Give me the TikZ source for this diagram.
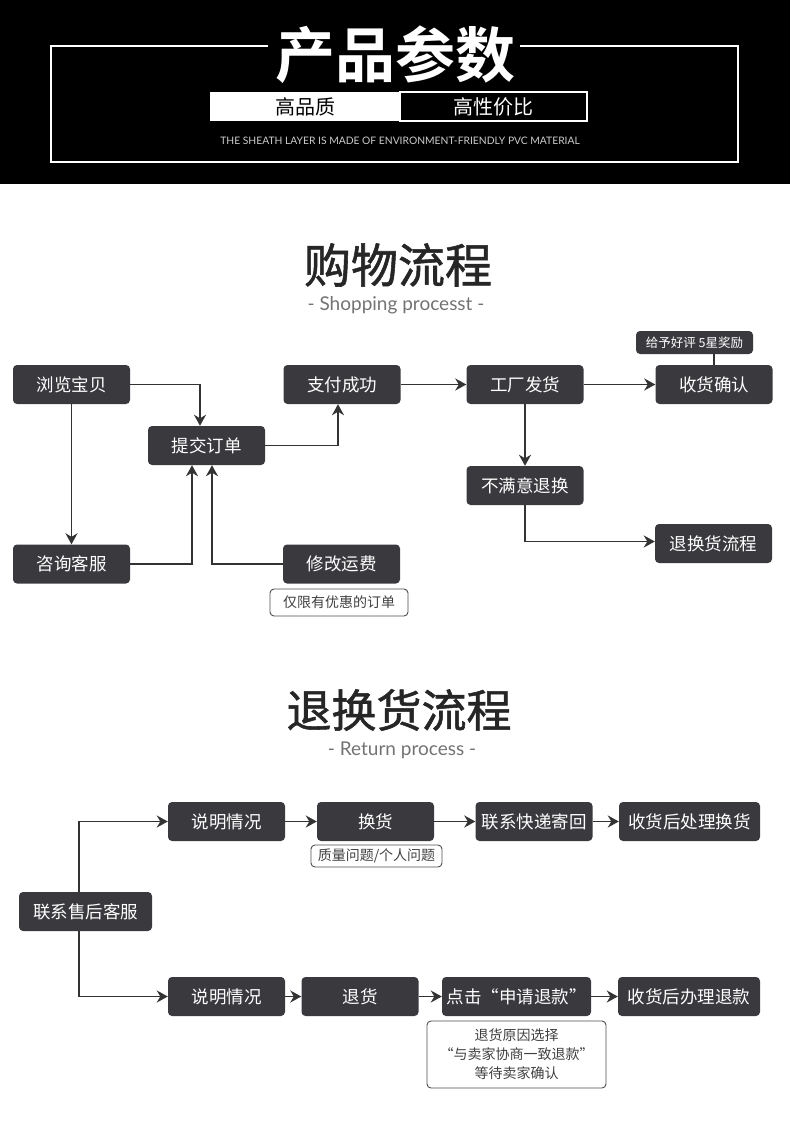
\documentclass[tikz,border=0pt]{standalone}
\usepackage{fontspec}
\newfontfamily\cjk{Noto Sans CJK SC}[BoldFont={Noto Sans CJK SC Bold}]
\newfontfamily\cjkmid{Noto Sans CJK SC}[FakeBold=1.2]
\newfontfamily\latin{Lato}
\usetikzlibrary{arrows.meta, positioning}
\definecolor{boxgray}{HTML}{3A393E}
\definecolor{linegray}{HTML}{333333}

\begin{document}
\begin{tikzpicture}[x=1pt,y=-1pt,
    flowbox/.style={fill=boxgray, rounded corners=4pt, text=white,
        font=\cjk\fontsize{17.5}{20}\selectfont,
        minimum width=117pt, minimum height=39pt, inner sep=0pt},
    notebox/.style={draw=black!70, rounded corners=4pt, text=black!75,
        font=\cjk\fontsize{14}{19}\selectfont, inner sep=3pt, line width=0.9pt},
    flowline/.style={draw=linegray, line width=1.9pt,
        -{Stealth[length=11pt,width=12pt,inset=3.5pt]}},
    every node/.style={anchor=center}]
    \useasboundingbox (0,0) rectangle (790,1126);

    % header
    \fill[black] (0,0) rectangle (790,184);
    \draw[white, line width=2pt] (268,46) -- (51,46) -- (51,162) -- (738,162) -- (738,46) -- (520,46);
    \node[text=white, font=\cjk\bfseries\fontsize{60}{60}\selectfont] (head) at (395,55) {产品参数};
    \node[fill=white, text=black, minimum width=190pt, minimum height=29pt, inner sep=0pt,
        font=\cjk\fontsize{20}{22}\selectfont] (quality) at (305,106.5) {高品质};
    \node[fill=black, draw=white, line width=2pt, text=white, minimum width=187pt, minimum height=29pt, inner sep=0pt,
        font=\cjk\fontsize{20}{22}\selectfont] (value) at (493.5,106.5) {高性价比};
    \node[text=white!80!black, font=\latin\fontsize{10.3}{11}\selectfont] (slogan) at (400,141)
        {THE SHEATH LAYER IS MADE OF ENVIRONMENT-FRIENDLY PVC MATERIAL};

    % shopping process
    \node[text=black!85, font=\cjkmid\fontsize{47}{50}\selectfont] (shoptitle) at (398,265) {购物流程};
    \node[text=black!55, font=\latin\fontsize{19}{22}\selectfont] (shopsub) at (396,305) {- Shopping processt -};

    \node[flowbox] (browse) at (71.5,384.5) {浏览宝贝};
    \node[flowbox] (pay) at (342,384.5) {支付成功};
    \node[flowbox] (ship) at (525,384.5) {工厂发货};
    \node[flowbox] (confirm) at (714,384.5) {收货确认};
    \node[flowbox, minimum height=23pt, font=\cjk\fontsize{12.5}{14}\selectfont] (praise) at (694.5,342.5) {给予好评 5星奖励};
    \node[flowbox] (order) at (206.5,445.5) {提交订单};
    \node[flowbox] (consult) at (71.5,564) {咨询客服};
    \node[flowbox] (fee) at (341.5,564) {修改运费};
    \node[notebox, minimum width=138pt, minimum height=27pt] (feenote) at (339,602.5) {仅限有优惠的订单};
    \node[flowbox] (unhappy) at (525,485.5) {不满意退换};
    \node[flowbox] (retproc) at (713.5,543.5) {退换货流程};

    \draw[flowline] (browse.east) -| ([xshift=-6.5pt]order.north);
    \draw[flowline] (browse) -- (consult);
    \draw[flowline] (consult.east) -| ([xshift=-14.5pt]order.south);
    \draw[flowline] (fee.west) -| ([xshift=5.5pt]order.south);
    \draw[flowline] (order.east) -| ([xshift=-4pt]pay.south);
    \draw[flowline] (pay) -- (ship);
    \draw[flowline] (ship) -- (confirm);
    \draw[flowline] (ship) -- (unhappy);
    \draw[flowline] (unhappy.south) |- ([yshift=2pt]retproc.west);
    \draw[draw=linegray, line width=1.9pt] (confirm.north) -- (confirm.north |- praise.south);

    % return process
    \node[text=black!85, font=\cjkmid\fontsize{45}{50}\selectfont] (rettitle) at (399,710) {退换货流程};
    \node[text=black!55, font=\latin\fontsize{19}{22}\selectfont] (retsub) at (402,750) {- Return process -};

    \node[flowbox, minimum width=133pt] (service) at (85.5,911.5) {联系售后客服};
    \node[flowbox] (explaina) at (226.5,821.5) {说明情况};
    \node[flowbox] (exchange) at (375.5,821.5) {换货};
    \node[notebox, minimum width=131pt, minimum height=22pt, inner sep=1pt] (exnote) at (376.5,856) {质量问题/个人问题};
    \node[flowbox] (courier) at (534,821.5) {联系快递寄回};
    \node[flowbox, minimum width=141pt] (exdone) at (689.5,821.5) {收货后处理换货};
    \node[flowbox] (explainb) at (226.5,996.5) {说明情况};
    \node[flowbox] (refund) at (360,996.5) {退货};
    \node[flowbox, minimum width=149pt] (apply) at (516.5,996.5) {点击“申请退款”};
    \node[flowbox, minimum width=142pt] (refdone) at (689,996.5) {收货后办理退款};
    \node[notebox, minimum width=179pt, minimum height=67pt, align=center] (refnote) at (516.5,1054.5)
        {退货原因选择\\“与卖家协商一致退款”\\等待卖家确认};

    \draw[flowline] ([xshift=-6.5pt]service.north) |- (explaina.west);
    \draw[flowline] ([xshift=-6.5pt]service.south) |- (explainb.west);
    \draw[flowline] (explaina) -- (exchange);
    \draw[flowline] (exchange) -- (courier);
    \draw[flowline] (courier) -- (exdone);
    \draw[flowline] (explainb) -- (refund);
    \draw[flowline] (refund) -- (apply);
    \draw[flowline] (apply) -- (refdone);
\end{tikzpicture}
\end{document}
